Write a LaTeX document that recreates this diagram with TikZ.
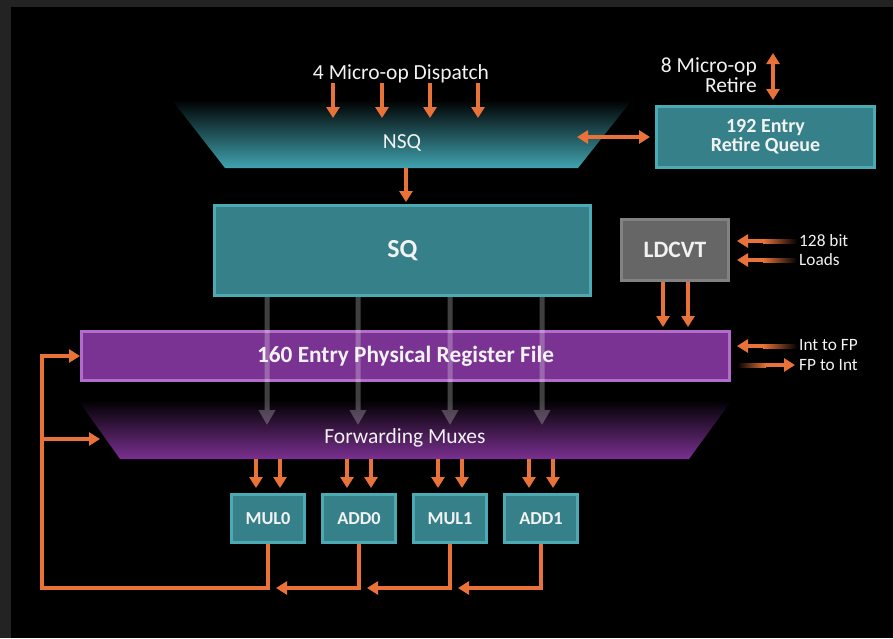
\documentclass[tikz,border=0pt]{standalone}
\usepackage{fontspec}
\setmainfont{Carlito}
\usetikzlibrary{arrows.meta,calc}
\definecolor{bggray}{RGB}{35,35,35}
\definecolor{org}{RGB}{232,114,56}
\definecolor{tealfill}{RGB}{54,128,137}
\definecolor{tealline}{RGB}{76,170,181}
\definecolor{nsqteal}{RGB}{64,163,175}
\definecolor{prffill}{RGB}{122,51,146}
\definecolor{prfline}{RGB}{178,108,202}
\definecolor{fmpurple}{RGB}{122,48,144}
\definecolor{ldfill}{RGB}{102,102,102}
\definecolor{ldline}{RGB}{130,130,130}
\definecolor{txt}{RGB}{242,242,242}
\begin{document}
\begin{tikzpicture}[x=1pt,y=-1pt,
  lbl/.style={text=txt, font=\fontsize{21.5}{20}\selectfont, inner sep=0pt},
  sidelbl/.style={text=txt, font=\fontsize{17.3}{20}\selectfont, inner sep=0pt, anchor=west, align=left},
  boxlbl/.style={text=txt, font=\bfseries\fontsize{20}{19}\selectfont, align=center, inner sep=0pt},
  tealbox/.style={boxlbl, draw=tealline, fill=tealfill, line width=3pt},
  unitbox/.style={tealbox, font=\bfseries\fontsize{18.3}{19}\selectfont, minimum width=73pt, minimum height=48pt},
  oarr/.style={draw=org, line width=4pt, line join=miter, -{Triangle[width=13pt,length=11pt]}},
  odarr/.style={draw=org, line width=4pt, {Triangle[width=13pt,length=11pt]}-{Triangle[width=13pt,length=11pt]}},
  ohead/.style={draw=org, line width=4pt, -{Triangle[width=13pt,length=11pt]}},
  garr/.style={draw=white, fill=white, line width=5pt, -{Triangle[width=16pt,length=15pt]}},
]
% background
\fill[bggray] (0,0) rectangle (893,638);
\fill[black] (11,7) rectangle (893,638);
\useasboundingbox (0,0) rectangle (893,638);

% NSQ trapezoid
\shade[top color=black, bottom color=nsqteal] (172,100) -- (632,100) -- (578,168) -- (225,168) -- cycle;
\node[lbl] (nsq) at (402,143) {NSQ};
\coordinate (nsqb) at (406,168);
\coordinate (nsqr) at (577,137);

% dispatch
\node[lbl] (disp) at (401,74) {4 Micro-op Dispatch};
\foreach \i/\x in {1/333,2/382,3/430,4/478}{
  \coordinate (d\i) at (\x,83);
  \coordinate (e\i) at (\x,118);
  \draw[oarr] (d\i) -- (e\i);
}

% retire queue
\node[tealbox, minimum width=218pt, minimum height=61pt] (rq) at (765.5,137) {192 Entry\\Retire Queue};
\draw[odarr, shorten >=5pt] (nsqr) -- (rq.west);
\node[lbl, anchor=east, align=right] (ret) at (757,75) {8 Micro-op\\Retire};
\coordinate (rtop) at (773,53);
\draw[odarr, shorten >=5pt] (rtop) -- (rtop |- rq.north);

% SQ
\node[tealbox, font=\bfseries\fontsize{26}{26}\selectfont, minimum width=376pt, minimum height=90pt] (sq) at (402.5,250.5) {SQ};
\draw[oarr, shorten >=2pt] (nsqb) -- (nsqb |- sq.north);

% LDCVT
\node[boxlbl, draw=ldline, fill=ldfill, line width=3pt, font=\bfseries\fontsize{23.5}{24}\selectfont, minimum width=107pt, minimum height=61pt] (ld) at (675,250) {LDCVT};

% PRF
\node[boxlbl, draw=prfline, fill=prffill, line width=3pt, font=\bfseries\fontsize{23.3}{24}\selectfont, minimum width=648pt, minimum height=49pt] (prf) at (405.5,356) {160 Entry Physical Register File};

% Forwarding muxes
\shade[top color=black, bottom color=fmpurple] (78,400) -- (732,400) -- (689,459) -- (120,459) -- cycle;
\node[lbl] (fm) at (405,438) {Forwarding Muxes};
\coordinate (fmtip) at (0,425);
\coordinate (fmbot) at (0,459);
\coordinate (fml) at (100,439);

% units
\node[unitbox] (mul0) at (268,518.5) {MUL0};
\node[unitbox] (add0) at (359,518.5) {ADD0};
\node[unitbox] (mul1) at (450,518.5) {MUL1};
\node[unitbox] (add1) at (541,518.5) {ADD1};

% gray arrows SQ -> forwarding muxes
\foreach \u/\dx in {mul0/-1,add0/-1,mul1/0,add1/1}{
  \begin{scope}[transparency group, opacity=0.25]
    \draw[garr] ([xshift=\dx pt]sq.south -| \u) -- ([xshift=\dx pt]\u |- fmtip);
  \end{scope}
}

% inputs into units
\foreach \u in {mul0,add0,mul1,add1}{
  \draw[oarr, shorten >=5pt] ([xshift=-12pt]\u.north |- fmbot) -- ([xshift=-12pt]\u.north);
  \draw[oarr, shorten >=5pt] ([xshift=12pt]\u.north |- fmbot) -- ([xshift=12pt]\u.north);
}

% LDCVT -> PRF
\draw[oarr, shorten >=3pt] ([xshift=-12pt]ld.south) -- ([xshift=-12pt]ld.south |- prf.north);
\draw[oarr, shorten >=3pt] ([xshift=13pt]ld.south) -- ([xshift=13pt]ld.south |- prf.north);

% 128 bit loads
\coordinate (l1) at (797,241);
\coordinate (l2) at (797,260);
\foreach \c in {l1,l2}{
  \draw[ohead, shorten >=7pt] ($(\c)+(-33,0)$) -- (ld.east |- \c);
  \shade[left color=org, right color=black] ($(\c)+(-34,-2)$) rectangle ($(\c)+(0,2)$);
}
\node[sidelbl, font=\fontsize{17.3}{19}\selectfont] (loads) at (799,250.5) {128 bit\\Loads};

% Int to FP / FP to Int
\coordinate (i1) at (797,346);
\coordinate (f1) at (795,365);
\draw[ohead, shorten >=6pt] ($(i1)+(-33,0)$) -- (prf.east |- i1);
\shade[left color=org, right color=black] ($(i1)+(-34,-2)$) rectangle ($(i1)+(0,2)$);
\draw[ohead] ($(f1)+(-30,0)$) -- (f1);
\shade[left color=black, right color=org] ($(prf.east |- f1)+(6,-2)$) rectangle ($(f1)+(-29,2)$);
\node[sidelbl] (ifp) at (799,355) {Int to FP\\FP to Int};

% outputs / feedback
\coordinate (lc) at (42,588);
\draw[oarr] (mul0.south) |- (lc) |- (prf.west);
\draw[oarr] (lc |- fml) -- (fml);
\draw[oarr] (add0.south) |- ([xshift=8pt]mul0.south |- lc);
\draw[oarr] (mul1.south) |- ([xshift=8pt]add0.south |- lc);
\draw[oarr] (add1.south) |- ([xshift=8pt]mul1.south |- lc);
\end{tikzpicture}
\end{document}
